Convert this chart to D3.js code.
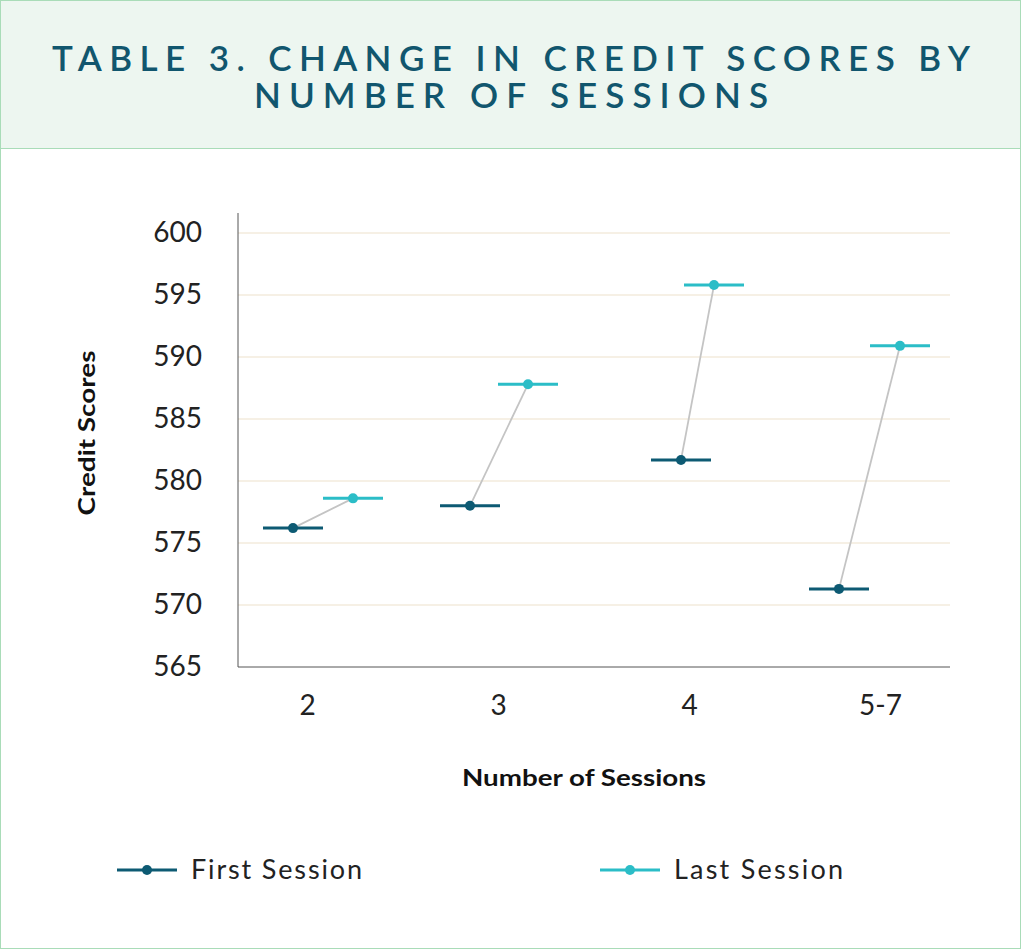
<!DOCTYPE html>
<html><head><meta charset="utf-8">
<script src="https://cdnjs.cloudflare.com/ajax/libs/d3/7.8.5/d3.min.js"></script>
<style>body{margin:0;background:#fff}svg{display:block;font-family:Lato,"Open Sans",sans-serif}</style>
</head><body><svg id="c" width="1021" height="949"></svg>
<script>
var categories = ["2", "3", "4", "5-7"];
var firstSession = [576.2, 578.0, 581.7, 571.3];
var lastSession = [578.6, 587.8, 595.8, 590.9];
var yTicks = [565, 570, 575, 580, 585, 590, 595, 600];
var firstOffset = [-14, -28, -8, -41];
var lastOffset = [46, 30, 25, 20];

var svg = d3.select("#c");
var darkC = "#0d5a73", lightC = "#2bbdc7";

// frame + header band
svg.append("rect").attr("x", 0.5).attr("y", 0.5).attr("width", 1020).attr("height", 948)
  .attr("fill", "#fff").attr("stroke", "#a9dcb8");
svg.append("rect").attr("x", 0.5).attr("y", 0.5).attr("width", 1020).attr("height", 148)
  .attr("fill", "#edf6f0").attr("stroke", "#a9dcb8");
[["TABLE 3. CHANGE IN CREDIT SCORES BY", 918], ["NUMBER OF SESSIONS", 514]].forEach(function(t, i) {
  svg.append("text").attr("x", 511).attr("y", 71 + i * 37).attr("text-anchor", "middle")
    .attr("font-size", 35).attr("font-weight", 600)
    .attr("textLength", t[1]).attr("lengthAdjust", "spacing")
    .attr("fill", "#11566e").text(t[0]);
});

var x = d3.scalePoint().domain(categories).range([307, 880]);
var y = d3.scaleLinear().domain([565, 600]).range([667, 233]);

// gridlines
svg.selectAll(".grid").data(yTicks.slice(1)).enter().append("line")
  .attr("x1", 238).attr("x2", 950).attr("y1", d => y(d)).attr("y2", d => y(d))
  .attr("stroke", "#f3ebdc").attr("stroke-width", 1.5);

var yAxis = svg.append("g").attr("transform", "translate(238,0)")
  .call(d3.axisLeft(y).tickValues(yTicks).tickSize(0).tickPadding(36));
yAxis.select(".domain").attr("d", "M0,213V667").attr("stroke", "#555");
yAxis.selectAll("text").attr("font-size", 28).attr("fill", "#222").attr("font-family", "Lato");

var xAxis = svg.append("g").attr("transform", "translate(0,667)")
  .call(d3.axisBottom(x).tickSize(0).tickPadding(28));
xAxis.select(".domain").attr("d", "M238,0H950").attr("stroke", "#555");
xAxis.selectAll("text").attr("font-size", 28).attr("fill", "#222").attr("font-family", "Lato");

svg.append("text").attr("x", 584).attr("y", 786).attr("text-anchor", "middle")
  .attr("font-size", 23).attr("font-weight", 700).attr("fill", "#111")
  .attr("textLength", 244).attr("lengthAdjust", "spacingAndGlyphs").text("Number of Sessions");
svg.append("text").attr("transform", "translate(95,433) rotate(-90)").attr("text-anchor", "middle")
  .attr("font-size", 23).attr("font-weight", 700).attr("fill", "#111")
  .attr("textLength", 165).attr("lengthAdjust", "spacingAndGlyphs").text("Credit Scores");

var pts = categories.map(function(c, i) {
  return {fx: x(c) + firstOffset[i], fy: y(firstSession[i]), lx: x(c) + lastOffset[i], ly: y(lastSession[i])};
});
svg.selectAll(".conn").data(pts).enter().append("line")
  .attr("x1", d => d.fx).attr("y1", d => d.fy).attr("x2", d => d.lx).attr("y2", d => d.ly)
  .attr("stroke", "#c4c4c4").attr("stroke-width", 1.8);

function marks(key, color) {
  var g = svg.append("g");
  g.selectAll("line").data(pts).enter().append("line")
    .attr("x1", d => d[key + "x"] - 30).attr("x2", d => d[key + "x"] + 30)
    .attr("y1", d => d[key + "y"]).attr("y2", d => d[key + "y"])
    .attr("stroke", color).attr("stroke-width", 3);
  g.selectAll("circle").data(pts).enter().append("circle")
    .attr("cx", d => d[key + "x"]).attr("cy", d => d[key + "y"]).attr("r", 5).attr("fill", color);
}
marks("f", darkC);
marks("l", lightC);

// legend
[["First Session", darkC, 117, 171], ["Last Session", lightC, 600, 169]].forEach(function(l) {
  svg.append("line").attr("x1", l[2]).attr("x2", l[2] + 60).attr("y1", 870).attr("y2", 870)
    .attr("stroke", l[1]).attr("stroke-width", 3);
  svg.append("circle").attr("cx", l[2] + 30).attr("cy", 870).attr("r", 5).attr("fill", l[1]);
  svg.append("text").attr("x", l[2] + 74).attr("y", 879).attr("font-size", 27).attr("fill", "#222")
    .attr("textLength", l[3]).attr("lengthAdjust", "spacing").text(l[0]);
});
</script></body></html>
